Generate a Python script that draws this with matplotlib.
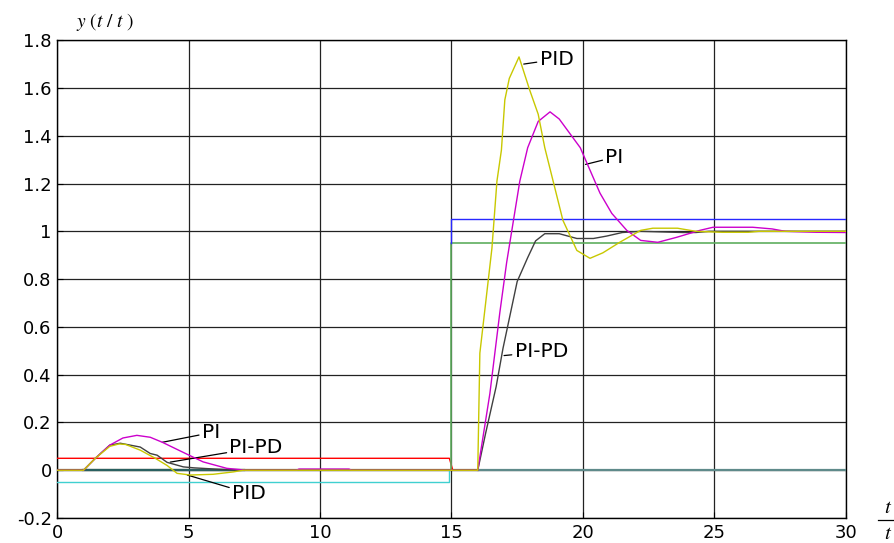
import matplotlib
matplotlib.use("Agg")
import matplotlib.pyplot as plt
from matplotlib.lines import Line2D

# ---- data ----
pid_t = [0, 1.0, 1.45, 2.0, 2.35, 2.6, 3.16, 3.73, 4.18, 4.56, 5.06, 5.93, 6.7, 7.07,
         16.0, 16.08, 16.3, 16.54, 16.73, 16.9, 17.03, 17.2, 17.57, 17.98, 18.3, 18.55,
         19.24, 19.77, 20.27, 20.76, 21.4, 22.2, 22.66, 23.6, 24.3, 25.3, 26.3, 26.7, 30]
pid_y = [0, 0, 0.05, 0.10, 0.11, 0.108, 0.084, 0.05, 0.02, -0.013, -0.02, -0.017, -0.007, 0,
         0, 0.49, 0.70, 0.93, 1.21, 1.34, 1.55, 1.64, 1.73, 1.59, 1.49, 1.35,
         1.046, 0.92, 0.887, 0.91, 0.954, 1.004, 1.013, 1.013, 1.0, 0.996, 0.996, 1.0, 1.0]

pi_t = [0, 1.0, 1.45, 2.0, 2.5, 3.03, 3.54, 4.0, 4.94, 5.55, 6.45, 7.2, 9.1, 9.2, 11.1, 11.2,
        16.0, 16.46, 16.84, 17.1, 17.6, 17.9, 18.3, 18.75, 19.1, 19.9, 20.65, 21.1, 21.67,
        22.2, 22.85, 23.57, 24.45, 24.95, 26.46, 27.2, 27.7, 28.9, 30]
pi_y = [0, 0, 0.05, 0.105, 0.135, 0.146, 0.138, 0.117, 0.067, 0.035, 0.008, 0, 0, 0.005, 0.005, 0,
        0, 0.32, 0.66, 0.87, 1.21, 1.35, 1.46, 1.50, 1.47, 1.35, 1.16, 1.075, 1.004,
        0.962, 0.954, 0.975, 1.004, 1.017, 1.017, 1.01, 1.0, 0.996, 0.995]

pipd_t = [0, 1.0, 1.45, 2.0, 2.4, 3.16, 3.54, 3.8, 4.18, 4.8, 5.2, 6.0, 7.0,
          16.0, 16.3, 16.7, 16.96, 17.5, 17.9, 18.2, 18.55, 19.1, 19.77, 20.4, 20.9,
          21.5, 22.2, 23.8, 24.3, 24.8, 30]
pipd_y = [0, 0, 0.05, 0.105, 0.113, 0.097, 0.07, 0.063, 0.033, 0.014, 0.01, 0.005, 0,
          0, 0.155, 0.35, 0.51, 0.79, 0.89, 0.96, 0.99, 0.99, 0.97, 0.97, 0.98,
          0.995, 1.0, 0.995, 0.995, 1.0, 1.0]

upper1_t = [0, 14.92, 15.05]
upper1_y = [0.05, 0.05, 0.0]
lower1_t = [0, 14.9, 14.9]
lower1_y = [-0.05, -0.05, 0.0]
lower2_t = [15, 15, 30]
lower2_y = [0.0, 0.95, 0.95]
upper2_t = [15, 15, 30]
upper2_y = [0.95, 1.05, 1.05]
zero_a_t = [0, 16]
zero_b_t = [1, 7.1]
zero_c_t = [16, 30]

xticks = [0, 5, 10, 15, 20, 25, 30]
yticks = [-0.2, 0, 0.2, 0.4, 0.6, 0.8, 1, 1.2, 1.4, 1.6, 1.8]
ytick_labels = ["-0.2", "0", "0.2", "0.4", "0.6", "0.8", "1", "1.2", "1.4", "1.6", "1.8"]

plt.rcParams['font.family'] = ['DejaVu Sans']

fig = plt.figure(figsize=(8.94, 5.43), dpi=100)
ax = fig.add_axes([0.064, 0.046, 0.882, 0.880])

ax.set_xlim(0, 30)
ax.set_ylim(-0.2, 1.8)
ax.set_xticks(xticks)
ax.set_xticklabels([str(v) for v in xticks])
ax.set_yticks(yticks)
ax.set_yticklabels(ytick_labels)
ax.tick_params(direction='in', length=4, width=0.8, labelsize=13, pad=4, colors='black')
ax.grid(True, color='#222222', linewidth=0.9)
ax.set_axisbelow(True)
for s in ax.spines.values():
    s.set_linewidth(1.0)
    s.set_color('black')

lw = 1.0
ax.plot(zero_a_t, [0, 0], color='#6b5d40', lw=1.6, zorder=3)
ax.plot(zero_b_t, [0, 0], color='#2a6060', lw=1.6, zorder=3)
ax.plot(upper1_t, upper1_y, color='#ff0000', lw=lw, zorder=3)
ax.plot(lower1_t, lower1_y, color='#40d0d0', lw=lw, zorder=3)
ax.plot(lower2_t, lower2_y, color='#5fae5f', lw=1.2, zorder=3)
ax.plot(upper2_t, upper2_y, color='#2828ff', lw=lw, zorder=3)
ax.plot(zero_c_t, [0, 0], color='#5f8a8a', lw=1.6, zorder=3)

ax.plot(pipd_t, pipd_y, color='#404040', lw=lw, zorder=4)
ax.plot(pi_t, pi_y, color='#cc00cc', lw=lw, zorder=5)
ax.plot(pid_t, pid_y, color='#c8c800', lw=lw, zorder=6)

# annotations
fs = 14.5
arrow = dict(arrowstyle='-', color='black', lw=0.9, shrinkA=0, shrinkB=0)
ax.annotate('PID', xy=(17.75, 1.70), xytext=(18.35, 1.72), fontsize=fs,
            va='center', ha='left', arrowprops=arrow)
ax.annotate('PI', xy=(20.1, 1.28), xytext=(20.85, 1.31), fontsize=fs,
            va='center', ha='left', arrowprops=arrow)
ax.annotate('PI-PD', xy=(17.0, 0.48), xytext=(17.4, 0.495), fontsize=fs,
            va='center', ha='left', arrowprops=arrow)
ax.annotate('PI', xy=(4.0, 0.117), xytext=(5.5, 0.157), fontsize=fs,
            va='center', ha='left', arrowprops=arrow)
ax.annotate('PI-PD', xy=(4.3, 0.034), xytext=(6.55, 0.094), fontsize=fs,
            va='center', ha='left', arrowprops=arrow)
ax.annotate('PID', xy=(4.95, -0.02), xytext=(6.65, -0.097), fontsize=fs,
            va='center', ha='left', arrowprops=arrow)

# axis labels (MATLAB style)
fig.text(105 / 894, 1 - 22 / 543, r'$y\ (t\ /\ t\ )$', fontsize=14, ha='center', va='center',
         math_fontfamily='stix')
fig.text(888 / 894, 1 - 507 / 543, r'$t$', fontsize=15, ha='center', va='center',
         math_fontfamily='stix')
fig.text(888 / 894, 1 - 533 / 543, r'$t$', fontsize=15, ha='center', va='center',
         math_fontfamily='stix')
fig.add_artist(Line2D([878 / 894, 898 / 894], [1 - 520 / 543, 1 - 520 / 543],
                      color='black', lw=0.9))

fig.savefig('out.png', dpi=100)
